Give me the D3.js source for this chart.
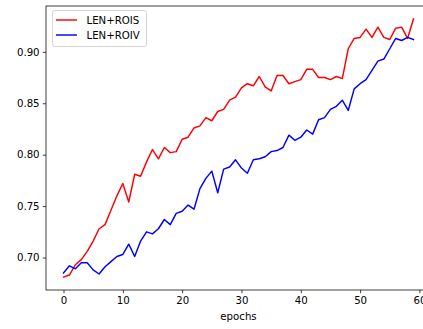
<!DOCTYPE html>
<html>
<head>
<meta charset="utf-8">
<script src="https://cdn.jsdelivr.net/npm/d3@7"></script>
<style>
  html, body { margin: 0; padding: 0; background: #fff; }
  svg { display: block; font-family: "DejaVu Sans", sans-serif; }
</style>
</head>
<body>
<svg id="chart" width="423" height="329"></svg>
<script>
const epochs = d3.range(0, 60);
const rois = [0.681, 0.683, 0.693, 0.698, 0.706, 0.716, 0.728, 0.732, 0.746, 0.760,
  0.772, 0.754, 0.781, 0.779, 0.793, 0.805, 0.796, 0.807, 0.802, 0.803,
  0.815, 0.817, 0.826, 0.828, 0.836, 0.833, 0.842, 0.844, 0.853, 0.856,
  0.865, 0.869, 0.867, 0.876, 0.866, 0.862, 0.877, 0.877, 0.869, 0.871,
  0.873, 0.883, 0.883, 0.875, 0.875, 0.873, 0.876, 0.874, 0.903, 0.913,
  0.914, 0.922, 0.914, 0.924, 0.914, 0.912, 0.923, 0.924, 0.913, 0.932];
const roiv = [0.685, 0.692, 0.689, 0.695, 0.695, 0.688, 0.684, 0.691, 0.696, 0.701,
  0.703, 0.713, 0.701, 0.716, 0.725, 0.723, 0.728, 0.737, 0.732, 0.743,
  0.745, 0.751, 0.747, 0.767, 0.777, 0.784, 0.763, 0.786, 0.788, 0.795,
  0.787, 0.782, 0.795, 0.796, 0.798, 0.803, 0.804, 0.807, 0.819, 0.814,
  0.817, 0.824, 0.820, 0.834, 0.836, 0.844, 0.847, 0.853, 0.843, 0.864,
  0.869, 0.873, 0.882, 0.891, 0.893, 0.903, 0.913, 0.911, 0.914, 0.912];
const seriesNames = ["LEN+ROIS", "LEN+ROIV"];
const seriesColors = ["#ff0000", "#0000ff"];
const xTicks = [0, 10, 20, 30, 40, 50, 60];
const yTicks = [0.70, 0.75, 0.80, 0.85, 0.90];
const xLabel = "epochs";

const svg = d3.select("#chart");
const L = 46, R = 431, T = 6, B = 290;

const allVals = rois.concat(roiv);
const ymin = d3.min(allVals), ymax = d3.max(allVals);
const ypad = (ymax - ymin) * 0.05;
const xpad = (d3.max(epochs) - d3.min(epochs)) * 0.05;

const x = d3.scaleLinear().domain([d3.min(epochs) - xpad, d3.max(epochs) + xpad]).range([L, R]);
const y = d3.scaleLinear().domain([ymin - ypad, ymax + ypad]).range([B, T]);

const fs = 10.2;

// lines
const line = d3.line().x((d, i) => x(epochs[i])).y(d => y(d));
[rois, roiv].forEach((s, k) => {
  svg.append("path").datum(s)
    .attr("d", line)
    .attr("fill", "none")
    .attr("stroke", seriesColors[k])
    .attr("stroke-width", 1.45)
    .attr("stroke-linejoin", "round")
    .attr("stroke-linecap", "square");
});

// axes
const xAxis = d3.axisBottom(x).tickValues(xTicks).tickFormat(d3.format("d")).tickSize(3.2).tickPadding(3.2);
const yAxis = d3.axisLeft(y).tickValues(yTicks).tickFormat(d3.format(".2f")).tickSize(3.2).tickPadding(3.2);

const gx = svg.append("g").attr("transform", `translate(0,${B})`).call(xAxis);
const gy = svg.append("g").attr("transform", `translate(${L},0)`).call(yAxis);
[gx, gy].forEach(g => {
  g.select(".domain").remove();
  g.selectAll(".tick line").attr("stroke", "#000").attr("stroke-width", 0.75);
  g.selectAll(".tick text").attr("fill", "#000").attr("font-size", fs).attr("font-family", "DejaVu Sans");
});

// spines
svg.append("rect").attr("x", L).attr("y", T).attr("width", R - L).attr("height", B - T)
  .attr("fill", "none").attr("stroke", "#000").attr("stroke-width", 0.75);

// x label
svg.append("text").attr("x", (L + R) / 2).attr("y", 320)
  .attr("text-anchor", "middle").attr("font-size", fs).attr("fill", "#000").text(xLabel);

// legend
const lg = svg.append("g");
lg.append("rect").attr("x", 52.5).attr("y", 10.5).attr("width", 94).attr("height", 36)
  .attr("rx", 2).attr("fill", "#fff").attr("fill-opacity", 0.8)
  .attr("stroke", "#cccccc").attr("stroke-width", 0.8);
seriesNames.forEach((n, k) => {
  const yy = 20 + k * 15;
  lg.append("line").attr("x1", 56).attr("x2", 77).attr("y1", yy).attr("y2", yy)
    .attr("stroke", seriesColors[k]).attr("stroke-width", 1.45);
  lg.append("text").attr("x", 86.5).attr("y", yy).attr("dy", "0.35em")
    .attr("font-size", fs).attr("fill", "#000").text(n);
});
</script>
</body>
</html>
